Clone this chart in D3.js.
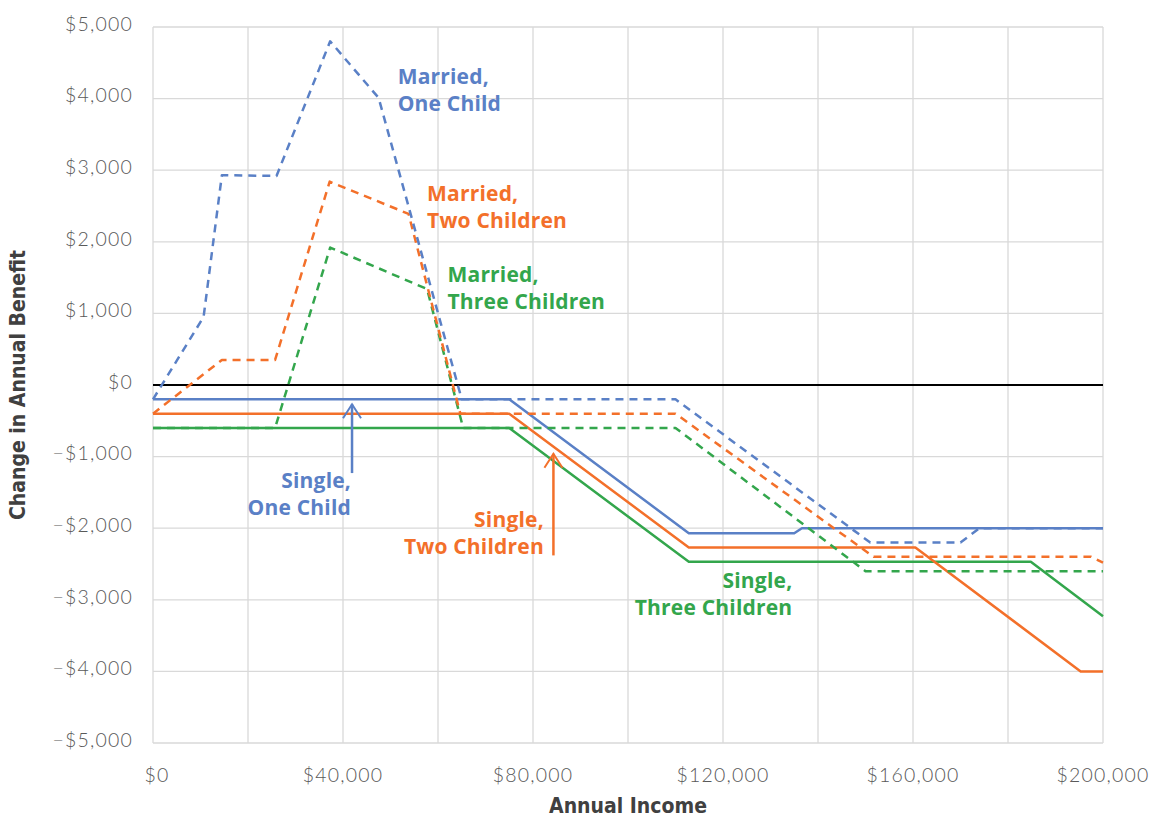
<!DOCTYPE html>
<html>
<head>
<meta charset="utf-8">
<script src="https://cdn.jsdelivr.net/npm/d3@7"></script>
<style>
  html, body { margin: 0; padding: 0; background: #fff; }
  svg { display: block; }
  .tick-label { font-family: Lato, "Open Sans", sans-serif; font-weight: 300; font-size: 19.5px; letter-spacing: 1.2px; fill: #595959; }
  .axis-title { font-family: "Liberation Sans Narrow", "DejaVu Sans Condensed", sans-serif; font-weight: bold; font-size: 21px; fill: #404040; }
  .note { font-family: "Open Sans", Lato, sans-serif; font-weight: 700; font-size: 21px; letter-spacing: 0.2px; }
</style>
</head>
<body>
<svg id="chart" width="1156" height="817"></svg>
<script>
// Annual income (x) and change in annual benefit (y), per household type
const marriedOneX   = [0, 10650, 14500, 26000, 37300, 47500, 65000, 110000, 151000, 170000, 174000, 200000];
const marriedOneY   = [-200, 950, 2930, 2920, 4800, 4010, -200, -200, -2200, -2200, -2000, -2000];

const marriedTwoX   = [0, 14500, 25700, 37200, 53800, 64700, 110000, 151700, 197500, 200000];
const marriedTwoY   = [-400, 350, 350, 2840, 2390, -400, -400, -2400, -2400, -2480];

const marriedThreeX = [0, 25700, 37300, 57700, 65300, 110000, 150000, 200000];
const marriedThreeY = [-600, -600, 1920, 1340, -600, -600, -2600, -2600];

const singleOneX    = [0, 75000, 112800, 135000, 136600, 200000];
const singleOneY    = [-200, -200, -2070, -2070, -2000, -2000];

const singleTwoX    = [0, 75000, 112800, 160500, 195300, 200000];
const singleTwoY    = [-400, -400, -2270, -2270, -4000, -4000];

const singleThreeX  = [0, 75000, 112800, 184800, 200000];
const singleThreeY  = [-600, -600, -2470, -2470, -3230];

// Axis ticks
const yTicks = [-5000, -4000, -3000, -2000, -1000, 0, 1000, 2000, 3000, 4000, 5000];
const xGridTicks = [0, 20000, 40000, 60000, 80000, 100000, 120000, 140000, 160000, 180000, 200000];
const xLabelTicks = [0, 40000, 80000, 120000, 160000, 200000];

const COLORS = { one: "#5a80c6", two: "#f3702a", three: "#33a64c" };

const series = [
  { x: singleThreeX,  y: singleThreeY,  color: COLORS.three, dashed: false },
  { x: singleTwoX,    y: singleTwoY,    color: COLORS.two,   dashed: false },
  { x: singleOneX,    y: singleOneY,    color: COLORS.one,   dashed: false },
  { x: marriedThreeX, y: marriedThreeY, color: COLORS.three, dashed: true },
  { x: marriedTwoX,   y: marriedTwoY,   color: COLORS.two,   dashed: true },
  { x: marriedOneX,   y: marriedOneY,   color: COLORS.one,   dashed: true }
];

// Label annotations (anchor in data units)
const notes = [
  { lines: ["Married,", "One Child"],       x: 51500,  y: 4200,  anchor: "start", color: COLORS.one },
  { lines: ["Married,", "Two Children"],    x: 57700,  y: 2570,  anchor: "start", color: COLORS.two },
  { lines: ["Married,", "Three Children"],  x: 62000,  y: 1440,  anchor: "start", color: COLORS.three },
  { lines: ["Single,", "One Child"],        x: 41700,  y: -1440, anchor: "end",   color: COLORS.one },
  { lines: ["Single,", "Two Children"],     x: 82300,  y: -1990, anchor: "end",   color: COLORS.two },
  { lines: ["Single,", "Three Children"],   x: 134600, y: -2840, anchor: "end",   color: COLORS.three }
];
const arrows = [
  { x: 41900, from: -1230, to: -270, color: COLORS.one },
  { x: 84300, from: -2380, to: -960, color: COLORS.two }
];

const svg = d3.select("#chart");
const margin = { left: 153, top: 27, right: 53, bottom: 74 };
const W = 1156, H = 817;
const x = d3.scaleLinear().domain([0, 200000]).range([margin.left, W - margin.right]);
const y = d3.scaleLinear().domain([-5000, 5000]).range([H - margin.bottom, margin.top]);

// Gridlines
const grid = svg.append("g");
grid.selectAll("line.h").data(yTicks).join("line")
  .attr("x1", x(0)).attr("x2", x(200000))
  .attr("y1", d => y(d)).attr("y2", d => y(d))
  .attr("stroke", "#d9d9d9").attr("stroke-width", 1.3);
grid.selectAll("line.v").data(xGridTicks).join("line")
  .attr("x1", d => x(d)).attr("x2", d => x(d))
  .attr("y1", y(5000)).attr("y2", y(-5000))
  .attr("stroke", "#d9d9d9").attr("stroke-width", 1.3);

// Tick labels
const fmt = d3.format("$,");
const money = v => (v < 0 ? "\u2212" : "") + fmt(Math.abs(v));
svg.append("g").selectAll("text").data(yTicks).join("text")
  .attr("class", "tick-label")
  .attr("x", margin.left - 20).attr("y", d => y(d) - 3)
  .attr("dy", "0.35em").attr("text-anchor", "end")
  .text(money);
svg.append("g").selectAll("text").data(xLabelTicks).join("text")
  .attr("class", "tick-label")
  .attr("x", d => x(d) + (d === 0 ? 4 : 0)).attr("y", y(-5000) + 39)
  .attr("text-anchor", "middle")
  .text(money);

// Axis titles
svg.append("text").attr("class", "axis-title")
  .attr("x", x(100000)).attr("y", 813).attr("text-anchor", "middle")
  .text("Annual Income");
svg.append("text").attr("class", "axis-title")
  .attr("transform", `translate(25,${y(0)}) rotate(-90)`)
  .attr("text-anchor", "middle")
  .text("Change in Annual Benefit");

// Zero line
svg.append("line")
  .attr("x1", x(0)).attr("x2", x(200000))
  .attr("y1", y(0)).attr("y2", y(0))
  .attr("stroke", "#000").attr("stroke-width", 2);

// Series lines
const line = d3.line().x(d => x(d[0])).y(d => y(d[1]));
svg.append("g").selectAll("path").data(series).join("path")
  .attr("d", s => line(s.x.map((v, i) => [v, s.y[i]])))
  .attr("fill", "none")
  .attr("stroke", s => s.color)
  .attr("stroke-width", 2.5)
  .attr("stroke-linejoin", "round")
  .attr("stroke-dasharray", s => s.dashed ? "8,6" : null);

// Arrows
const ag = svg.append("g");
arrows.forEach(a => {
  const xp = x(a.x), y0 = y(a.from), y1 = y(a.to);
  ag.append("line").attr("x1", xp).attr("x2", xp).attr("y1", y0).attr("y2", y1)
    .attr("stroke", a.color).attr("stroke-width", 2.5);
  ag.append("path")
    .attr("d", `M${xp - 9},${y1 + 14}L${xp},${y1}L${xp + 9},${y1 + 14}`)
    .attr("fill", "none").attr("stroke", a.color).attr("stroke-width", 2);
});

// Annotation text
const ng = svg.append("g");
notes.forEach(n => {
  const t = ng.append("text").attr("class", "note")
    .attr("x", x(n.x)).attr("y", y(n.y))
    .attr("text-anchor", n.anchor).attr("fill", n.color);
  n.lines.forEach((l, i) => {
    t.append("tspan").attr("x", x(n.x)).attr("dy", i === 0 ? 0 : 27).text(l);
  });
});
</script>
</body>
</html>
